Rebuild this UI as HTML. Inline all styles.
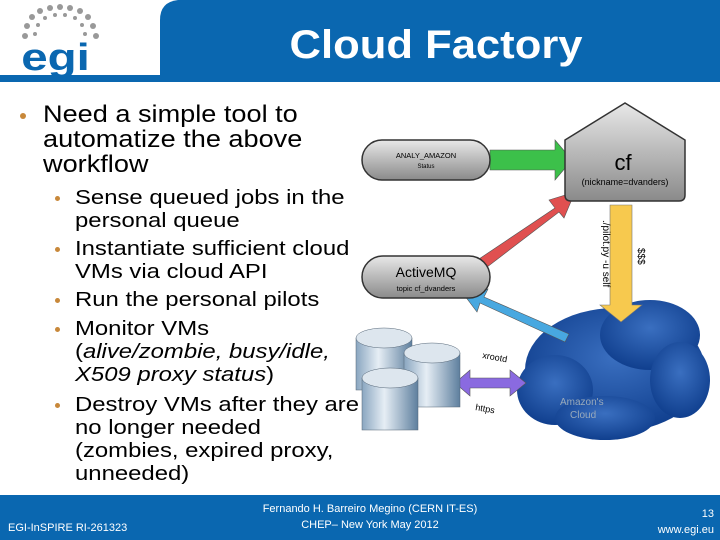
<!DOCTYPE html>
<html><head><meta charset="utf-8"><style>
body{margin:0;width:720px;height:540px;overflow:hidden;background:#fff;font-family:"Liberation Sans",sans-serif;position:relative}
.a{position:absolute;white-space:nowrap}
.l1{font-size:24px;line-height:25px;color:#000;transform:scaleX(1.13);transform-origin:0 0}
.l2{font-size:20.5px;line-height:23px;color:#000;transform:scaleX(1.165);transform-origin:0 0}
.b{position:absolute;width:6px;height:6px;border-radius:50%;background:#c8883a}
</style></head><body>
<svg class="a" style="left:0;top:0" width="720" height="90">
<path d="M178,0 H720 V76 H160 V20 Q160,2 178,0 Z" fill="#0a67b0"/>
<rect x="0" y="75" width="720" height="7" fill="#0a67b0"/>
<g fill="#999">
<circle cx="50" cy="8" r="3"/><circle cx="60" cy="7" r="3"/><circle cx="70" cy="8" r="3"/><circle cx="40" cy="11" r="3"/><circle cx="80" cy="11" r="3"/>
<circle cx="32" cy="17" r="3"/><circle cx="88" cy="17" r="3"/><circle cx="27" cy="26" r="3"/><circle cx="93" cy="26" r="3"/><circle cx="25" cy="36" r="3"/><circle cx="96" cy="36" r="3"/>
<circle cx="45" cy="18" r="2"/><circle cx="55" cy="15" r="2"/><circle cx="65" cy="15" r="2"/><circle cx="75" cy="18" r="2"/><circle cx="38" cy="25" r="2"/><circle cx="82" cy="25" r="2"/><circle cx="35" cy="34" r="2"/><circle cx="85" cy="34" r="2"/>
</g>
<text x="22" y="70" font-size="38" font-weight="bold" fill="#0a67b0" font-family="Liberation Sans" transform="scale(1.25,1) translate(-5,0)">egi</text>
<text x="0" y="58" font-size="40" font-weight="bold" fill="#fff" text-anchor="middle" font-family="Liberation Sans" transform="translate(436,0) scale(1.09,1)">Cloud Factory</text>
</svg>

<div class="b" style="left:20px;top:113px"></div>
<div class="a l1" style="left:43px;top:102px">Need a simple tool to<br>automatize the above<br>workflow</div>
<div class="b" style="left:55px;top:196px;width:5px;height:5px"></div>
<div class="b" style="left:55px;top:247px;width:5px;height:5px"></div>
<div class="b" style="left:55px;top:298px;width:5px;height:5px"></div>
<div class="b" style="left:55px;top:327px;width:5px;height:5px"></div>
<div class="b" style="left:55px;top:403px;width:5px;height:5px"></div>
<div class="a l2" style="left:75px;top:186px">Sense queued jobs in the<br>personal queue</div>
<div class="a l2" style="left:75px;top:237px">Instantiate sufficient cloud<br>VMs via cloud API</div>
<div class="a l2" style="left:75px;top:288px">Run the personal pilots</div>
<div class="a l2" style="left:75px;top:317px">Monitor VMs<br>(<i>alive/zombie, busy/idle,<br>X509 proxy status</i>)</div>
<div class="a l2" style="left:75px;top:393px">Destroy VMs after they are<br>no longer needed<br>(zombies, expired proxy,<br>unneeded)</div>

<svg class="a" style="left:350px;top:100px" width="370" height="350">
<defs>
<linearGradient id="g" x1="0" y1="0" x2="0" y2="1"><stop offset="0" stop-color="#e8e8e8"/><stop offset="1" stop-color="#8a8a8a"/></linearGradient>
<radialGradient id="c" cx="0.5" cy="0.4" r="0.6"><stop offset="0" stop-color="#3a6fc0"/><stop offset="1" stop-color="#103f8e"/></radialGradient>
<linearGradient id="d" x1="0" y1="0" x2="1" y2="0"><stop offset="0" stop-color="#8aa6c0"/><stop offset="0.4" stop-color="#e6eef5"/><stop offset="1" stop-color="#5e7f9e"/></linearGradient>
</defs>
<g fill="url(#c)">
<ellipse cx="265" cy="270" rx="90" ry="62"/><ellipse cx="300" cy="235" rx="50" ry="35"/><ellipse cx="205" cy="290" rx="38" ry="35"/><ellipse cx="255" cy="318" rx="50" ry="22"/><ellipse cx="330" cy="280" rx="30" ry="38"/>
</g>
<text x="210" y="305" font-size="10" fill="#9ab" font-family="Liberation Sans">Amazon's</text>
<text x="220" y="318" font-size="10" fill="#9ab" font-family="Liberation Sans">Cloud</text>
<path d="M140,50 H205 V40 L222,60 L205,80 V70 H140 Z" fill="#3cc04a" stroke="#555" stroke-width="0.6"/>
<path d="M120,165 L205,108 L199,100 L225,92 L214,118 L209,112 L128,174 Z" fill="#e05050" stroke="#555" stroke-width="0.6"/>
<path d="M260,105 H282 V205 H292 L271,222 L250,205 H260 Z" fill="#f7c94e" stroke="#777" stroke-width="0.6"/>
<path d="M215,242 L130,203 L127,212 L115,196 L138,189 L134,197 L219,234 Z" fill="#48a8e0" stroke="#555" stroke-width="0.6"/>
<path d="M105,283 L120,270 V278 H160 V270 L176,283 L160,296 V288 H120 V296 Z" fill="#8a6ae0" stroke="#555" stroke-width="0.6"/>
<rect x="12" y="40" width="128" height="40" rx="20" fill="url(#g)" stroke="#333" stroke-width="1.5"/>
<text x="76" y="58" font-size="7.5" text-anchor="middle" font-family="Liberation Sans">ANALY_AMAZON</text>
<text x="76" y="68" font-size="6" text-anchor="middle" font-family="Liberation Sans">Status</text>
<path d="M215,40 L275,3 L335,40 V95 Q335,101 329,101 H221 Q215,101 215,95 Z" fill="url(#g)" stroke="#333" stroke-width="1.5"/>
<text x="273" y="70" font-size="22" text-anchor="middle" font-family="Liberation Sans">cf</text>
<text x="275" y="85" font-size="9" text-anchor="middle" font-family="Liberation Sans">(nickname=dvanders)</text>
<rect x="12" y="156" width="128" height="42" rx="21" fill="url(#g)" stroke="#333" stroke-width="1.5"/>
<text x="76" y="177" font-size="14" text-anchor="middle" font-family="Liberation Sans">ActiveMQ</text>
<text x="76" y="191" font-size="7.5" text-anchor="middle" font-family="Liberation Sans">topic cf_dvanders</text>
<text transform="translate(253,120) rotate(90)" font-size="10" font-family="Liberation Sans">./pilot.py -u self</text>
<text transform="translate(288,148) rotate(90)" font-size="10" font-family="Liberation Sans">$$$</text>
<text x="132" y="258" font-size="9" transform="rotate(10 132 258)" font-family="Liberation Sans">xrootd</text>
<text x="125" y="310" font-size="9" transform="rotate(10 125 310)" font-family="Liberation Sans">https</text>
<g stroke="#567" stroke-width="0.5">
<rect x="6" y="238" width="56" height="52" fill="url(#d)"/><ellipse cx="34" cy="238" rx="28" ry="10" fill="#dde6ee"/>
<rect x="54" y="253" width="56" height="54" fill="url(#d)"/><ellipse cx="82" cy="253" rx="28" ry="10" fill="#dde6ee"/>
<rect x="12" y="278" width="56" height="52" fill="url(#d)"/><ellipse cx="40" cy="278" rx="28" ry="10" fill="#dde6ee"/>
</g>
</svg>

<div class="a" style="left:0;top:495px;width:720px;height:45px;background:#0a67b0"></div>
<div class="a" style="left:8px;top:522px;font-size:11px;color:#fff">EGI-InSPIRE RI-261323</div>
<div class="a" style="left:250px;top:501px;width:240px;text-align:center;font-size:11px;line-height:16px;color:#fff">Fernando H. Barreiro Megino (CERN IT-ES)<br>CHEP– New York May 2012</div>
<div class="a" style="left:640px;top:506px;width:74px;text-align:right;font-size:11px;line-height:16px;color:#fff">13<br>www.egi.eu</div>
</body></html>
